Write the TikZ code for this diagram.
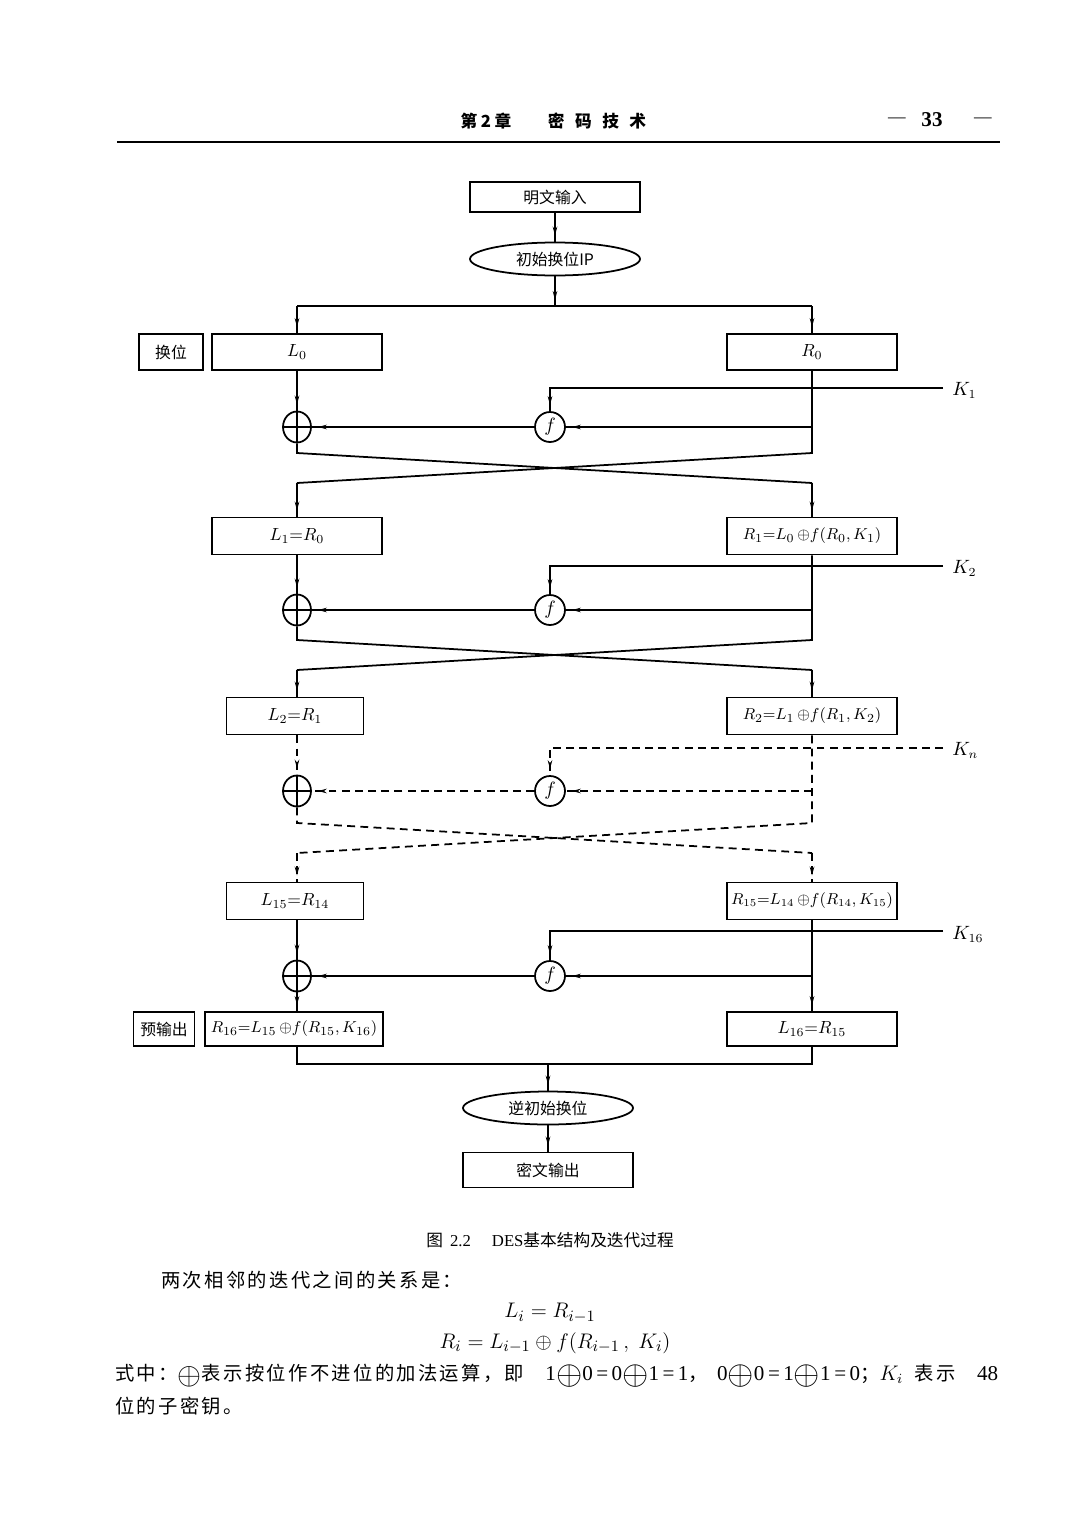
\documentclass[tikz,border=0pt]{standalone}
\usepackage{fontspec}
\usepackage{graphicx}
\setmainfont{Liberation Serif}
\newfontfamily\cjk{Noto Sans CJK SC}
\newfontfamily\cjkt[LetterSpace=12]{Noto Sans CJK SC}
\usetikzlibrary{arrows.meta,decorations.markings,shapes.geometric}
\newcommand\myfs[1]{\fontsize{#1pt}{#1pt}\selectfont}
\newcommand\tplus{\raisebox{-0.2em}{\scalebox{1.6}{$\oplus$}}}
\newcommand\teq{\,=\,}
\begin{document}
\begin{tikzpicture}[x=0.02cm,y=-0.02cm,
  ln/.style={line width=1pt},
  dsh/.style={dash pattern=on 4.5pt off 3pt},
  box/.style={draw, line width=1pt, rectangle, inner sep=0pt, minimum width=3.4cm, minimum height=0.72cm, font=\myfs{10}},
  cbox/.style={box, font=\cjk\myfs{9}},
  ell/.style={draw, line width=1pt, ellipse, inner sep=0pt, minimum width=3.4cm, minimum height=0.66cm, font=\cjk\myfs{9}},
  xo/.style={draw, line width=1pt, ellipse, inner sep=0pt, minimum width=0.56cm, minimum height=0.62cm},
  fn/.style={draw, line width=1pt, circle, inner sep=0pt, minimum size=0.6cm, font=\myfs{11}},
  klab/.style={anchor=west, inner sep=0pt, font=\myfs{10.5}},
  marr/.style={postaction={decorate}, decoration={markings, mark=at position -3.5pt with {\arrow{Stealth[length=5pt,width=2.6pt]}}}}
]
\useasboundingbox[fill=white] (0,0) rectangle (1080,1528);

% header
\node[font=\cjk\bfseries\myfs{9.5}] (h1) at (486,121) {第\hspace{2pt}2\hspace{2pt}章};
\node[font=\cjk\bfseries\myfs{9.5}] (h2) at (597,121) {密\hspace{6pt}码\hspace{6pt}技\hspace{6pt}术};
\node[font=\myfs{10}] (d1) at (897,120) {—};
\node[font=\bfseries\myfs{12}] (pg) at (932,120) {33};
\node[font=\myfs{10}] (d2) at (983,120) {—};
\draw[line width=1.6pt] (117,142) -- (1000,142);

% top
\node[cbox, minimum height=0.6cm] (in) at (555,197) {明文输入};
\node[ell] (ip) at (555,259) {初始换位IP};
\coordinate (sp) at (555,306);
\coordinate (spl) at (297,306);
\coordinate (spr) at (812,306);
\node[cbox, minimum width=1.28cm] (sw) at (171,352) {换位};
\node[box] (L0) at (297,352) {$L_0$};
\node[box] (R0) at (812,352) {$R_0$};
\draw[ln,marr] (in) -- (ip);
\draw[ln,marr] (ip) -- (sp);
\draw[ln] (spl) -- (spr);
\draw[ln,marr] (spl) -- (L0);
\draw[ln,marr] (spr) -- (R0);

% round 1
\node[xo] (x1) at (297,427) {};
\draw[ln] (x1.north) -- (x1.south) (x1.west) -- (x1.east);
\node[fn] (f1) at (550,427) {$f$};
\coordinate (k1) at (943,388);
\node[klab] (k1l) at (952,390) {$K_1$};
\coordinate (r1) at (812,427);
\coordinate (lb1) at (297,453);
\coordinate (rb1) at (812,453);
\coordinate (lt1) at (297,483);
\coordinate (rt1) at (812,483);
\node[box, minimum height=0.74cm] (L1) at (297,536) {$L_1{=}R_0$};
\node[box, minimum height=0.74cm, font=\myfs{9.5}] (R1) at (812,536) {$R_1{=}L_0\,{\oplus}f(R_0,K_1)$};
\draw[ln,marr] (L0) -- (x1);
\draw[ln,marr] (k1) -| (f1);
\draw[ln,marr] (f1) -- (x1);
\draw[ln,marr] (r1) -- (f1);
\draw[ln] (R0) -- (rb1) -- (lt1);
\draw[ln,marr] (lt1) -- (L1);
\draw[ln] (x1) -- (lb1) -- (rt1);
\draw[ln,marr] (rt1) -- (R1);

% round 2
\node[xo] (x2) at (297,610) {};
\draw[ln] (x2.north) -- (x2.south) (x2.west) -- (x2.east);
\node[fn] (f2) at (550,610) {$f$};
\coordinate (k2) at (943,566);
\node[klab] (k2l) at (952,568) {$K_2$};
\coordinate (r2) at (812,610);
\coordinate (lb2) at (297,640);
\coordinate (rb2) at (812,640);
\coordinate (lt2) at (297,670);
\coordinate (rt2) at (812,670);
\node[box, minimum width=2.74cm, minimum height=0.74cm] (L2) at (295,716) {$L_2{=}R_1$};
\node[box, minimum height=0.74cm, font=\myfs{9.5}] (R2) at (812,716) {$R_2{=}L_1\,{\oplus}f(R_1,K_2)$};
\draw[ln,marr] (L1) -- (x2);
\draw[ln,marr] (k2) -| (f2);
\draw[ln,marr] (f2) -- (x2);
\draw[ln,marr] (r2) -- (f2);
\draw[ln] (R1) -- (rb2) -- (lt2);
\draw[ln,marr] (lt2) -- (lt2 |- L2.north);
\draw[ln] (x2) -- (lb2) -- (rt2);
\draw[ln,marr] (rt2) -- (R2);

% dashed rounds
\node[xo] (x3) at (297,791) {};
\draw[ln] (x3.north) -- (x3.south) (x3.west) -- (x3.east);
\node[fn] (f3) at (550,791) {$f$};
\coordinate (k3) at (943,748);
\node[klab] (k3l) at (952,750) {$K_n$};
\coordinate (r3) at (812,791);
\coordinate (lb3) at (297,823);
\coordinate (rb3) at (812,823);
\coordinate (lt3) at (297,853);
\coordinate (rt3) at (812,853);
\node[box, minimum width=2.74cm, minimum height=0.74cm] (L15) at (295,901) {$L_{15}{=}R_{14}$};
\node[box, minimum height=0.74cm, font=\myfs{9}] (R15) at (812,901) {$R_{15}{=}L_{14}\,{\oplus}f(R_{14},K_{15})$};
\draw[ln,dsh,marr] (x3.north |- L2.south) -- (x3);
\draw[ln,dsh,marr] (k3) -| (f3);
\draw[ln,dsh,marr] (f3) -- (x3);
\draw[ln,dsh,marr] (r3) -- (f3);
\draw[ln,dsh] (R2) -- (rb3) -- (lt3);
\draw[ln,dsh,marr] (lt3) -- (lt3 |- L15.north);
\draw[ln,dsh] (x3) -- (lb3) -- (rt3);
\draw[ln,dsh,marr] (rt3) -- (R15);

% round 16
\node[xo] (x16) at (297,976) {};
\draw[ln] (x16.north) -- (x16.south) (x16.west) -- (x16.east);
\node[fn] (f16) at (550,976) {$f$};
\coordinate (k16) at (943,931);
\node[klab] (k16l) at (952,934) {$K_{16}$};
\coordinate (r16) at (812,976);
\node[cbox, minimum width=1.22cm, minimum height=0.68cm] (pre) at (164,1029) {预输出};
\node[box, minimum width=3.56cm, minimum height=0.68cm, font=\myfs{9.5}] (R16) at (294,1029) {$R_{16}{=}L_{15}\,{\oplus}f(R_{15},K_{16})$};
\node[box, minimum height=0.68cm] (L16) at (812,1029) {$L_{16}{=}R_{15}$};
\draw[ln,marr] (x16.north |- L15.south) -- (x16);
\draw[ln,marr] (k16) -| (f16);
\draw[ln,marr] (f16) -- (x16);
\draw[ln,marr] (r16) -- (f16);
\draw[ln,marr] (R15) -- (L16);
\draw[ln,marr] (x16) -- (x16 |- R16.north);

% bottom
\coordinate (bl) at (297,1064);
\coordinate (br) at (812,1064);
\coordinate (bm) at (548,1064);
\draw[ln] (bl |- R16.south) -- (bl) -- (br) -- (L16);
\node[ell] (iip) at (548,1108) {逆初始换位};
\node[cbox, minimum height=0.7cm] (out) at (548,1170) {密文输出};
\draw[ln,marr] (bm) -- (iip);
\draw[ln,marr] (iip) -- (out);

% caption and text
\node[font=\cjk\myfs{9.5}] (cap) at (550,1240) {图\hspace{4pt}{\rmfamily 2.2}\hspace{12pt}{\rmfamily DES}基本结构及迭代过程};
\node[anchor=west, inner sep=0pt, font=\cjkt\myfs{11}] (t1) at (161,1280) {两次相邻的迭代之间的关系是：};
\node[font=\myfs{12.5}] (e1) at (550,1313) {$L_i = R_{i-1}$};
\node[font=\myfs{12.5}] (e2) at (555,1343) {$R_i = L_{i-1}\oplus f(R_{i-1}\,,\;K_i)$};
\node[anchor=west, inner sep=0pt, font=\cjkt\myfs{11}] (t3) at (115,1376) {\makebox[17.66cm][s]{式中：\tplus 表示按位作不进位的加法运算，即 {\rmfamily\myfs{12} 1\tplus 0\teq 0\tplus 1\teq 1}，{\rmfamily\myfs{12} 0\tplus 0\teq 1\tplus 1\teq 0}；{\myfs{12}$K_i$} 表示 {\rmfamily\myfs{12} 48}}};
\node[anchor=west, inner sep=0pt, font=\cjkt\myfs{11}] (t4) at (115,1406) {位的子密钥。};
\end{tikzpicture}
\end{document}
